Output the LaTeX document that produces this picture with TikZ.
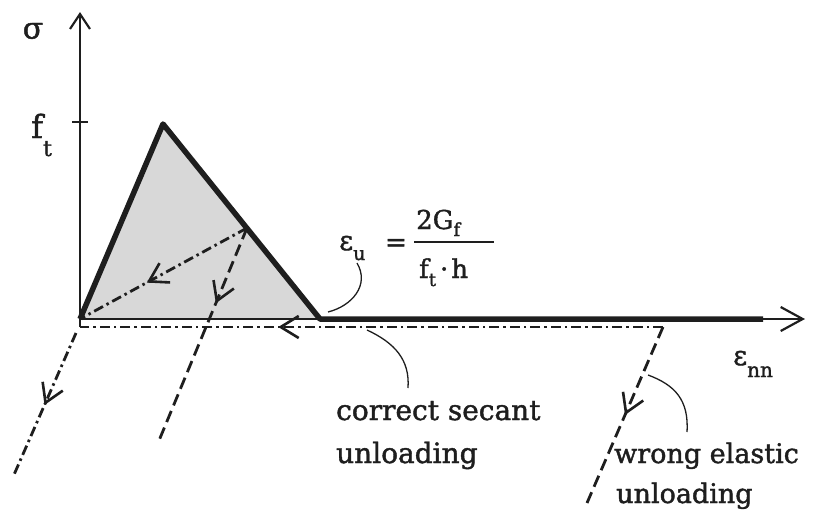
\documentclass[tikz,border=0pt]{standalone}
\usepackage{fontspec}
\setmainfont{DejaVu Serif}
\newfontfamily\lblfont{DejaVu Serif}[FakeBold=1.5]
\usetikzlibrary{arrows.meta,decorations.markings}
\definecolor{ink}{HTML}{1E1E1E}
\definecolor{trifill}{HTML}{D8D8D8}
\begin{document}
\begin{tikzpicture}[x=1pt,y=-1pt,
  axis/.style={line width=2.2pt, draw=ink},
  curve/.style={line width=5.5pt, draw=ink, line join=round},
  dashdot/.style={line width=2.8pt, draw=ink, dash pattern=on 10pt off 4pt on 2.5pt off 4pt},
  dashline/.style={line width=2.8pt, draw=ink, dash pattern=on 12pt off 6pt},
  leader/.style={line width=1.3pt, draw=ink},
  midarrow/.style={postaction={decorate, decoration={markings,
      mark=at position #1 with {\arrow[ink, line width=2.6pt]{Straight Barb[length=18pt,width=22pt]}}}}},
  lbl/.style={text=ink, inner sep=0pt},
]
\useasboundingbox (0,0) rectangle (817,515);
% key points
\coordinate (O) at (80,319);
\coordinate (Otop) at (80,12);
\coordinate (Obot) at (80,327);
\coordinate (Xend) at (805,319);
\coordinate (P) at (163,124);
\coordinate (R) at (320,319);
\coordinate (Tend) at (763,319);
\coordinate (U) at (247,228);
\coordinate (E1) at (158,443);
\coordinate (W0) at (663,327);
\coordinate (W1) at (587,503);
\coordinate (L0) at (76,333);
\coordinate (L1) at (13,477);
\coordinate (tickL) at (72,122);
\coordinate (tickR) at (88,122);
% shaded triangle
\fill[trifill] (O) -- (P) -- (R) -- cycle;
% axes
\draw[axis, -{Straight Barb[length=15pt,width=20pt]}] (Obot) -- (Otop);
\draw[axis, -{Straight Barb[length=22pt,width=24pt]}] (O) -- (Xend);
\draw[axis] (tickL) -- (tickR);
% softening curve
\draw[curve] (O) -- (P) -- (R) -- (Tend);
% unloading paths
\draw[dashdot, midarrow=0.6] (U) -- (O);
\draw[dashline, midarrow=0.35] (U) -- (E1);
\draw[dashdot, midarrow=0.66] (W0) -- (Obot);
\draw[dashdot, midarrow=0.5] (L0) -- (L1);
\draw[dashline, midarrow=0.5] (W0) -- (W1);
% labels
\node[lbl, font=\lblfont\fontsize{30}{30}\selectfont] (sig) at (33,31) {σ};
\node[lbl, anchor=base west, font=\lblfont\fontsize{32}{32}\selectfont] (ft) at (31,138)
  {f\raisebox{-18pt}{\fontsize{22}{22}\selectfont t}};
\node[lbl, anchor=base west, font=\lblfont\fontsize{27}{27}\selectfont] (enn) at (733,365)
  {ε\raisebox{-12pt}{\fontsize{20}{20}\selectfont nn}};
\node[lbl, anchor=base west, font=\lblfont\fontsize{27}{27}\selectfont] (eu) at (339,250)
  {ε\raisebox{-10pt}{\fontsize{19}{19}\selectfont u}};
\node[lbl, font=\lblfont\fontsize{26}{26}\selectfont] (eq) at (396,245) {=};
\node[lbl, anchor=base west, font=\lblfont\fontsize{26}{26}\selectfont] (num) at (416,229)
  {2G\raisebox{-7pt}{\fontsize{18}{18}\selectfont f}};
\coordinate (barL) at (414,242);
\coordinate (barR) at (494,242);
\draw[line width=1.8pt, ink] (barL) -- (barR);
\node[lbl, anchor=base west, font=\lblfont\fontsize{26}{26}\selectfont] (den) at (419,278)
  {f\raisebox{-8pt}{\fontsize{18}{18}\selectfont t}\hspace{4pt}·\hspace{3pt}h};
\node[lbl, anchor=base west, font=\lblfont\fontsize{28}{28}\selectfont] (sec1) at (336,420) {correct secant};
\node[lbl, anchor=base west, font=\lblfont\fontsize{28}{28}\selectfont] (sec2) at (336,463) {unloading};
\node[lbl, anchor=base west, font=\lblfont\fontsize{27}{27}\selectfont] (wr1) at (614,463) {wrong elastic};
\node[lbl, anchor=base west, font=\lblfont\fontsize{27}{27}\selectfont] (wr2) at (616,503) {unloading};
% leader curves
\coordinate (eu1) at (357,263);
\coordinate (eu2) at (328,312);
\draw[leader] (eu1) .. controls (370,285) and (352,306) .. (eu2);
\coordinate (sc1) at (367,330);
\coordinate (sc2) at (408,388);
\draw[leader] (sc1) .. controls (395,343) and (410,360) .. (sc2);
\coordinate (we1) at (648,375);
\coordinate (we2) at (687,432);
\draw[leader] (we1) .. controls (675,385) and (689,400) .. (we2);
\end{tikzpicture}
\end{document}
